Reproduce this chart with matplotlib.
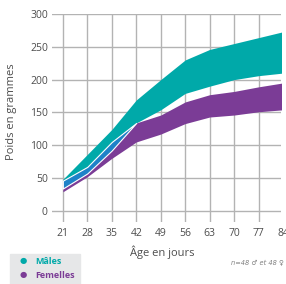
import matplotlib.pyplot as plt
import numpy as np

plt.rcParams['font.family'] = ['Open Sans', 'DejaVu Sans']

# ages (jours) et poids (grammes)
jours = [21, 28, 35, 42, 49, 56, 63, 70, 77, 84]
males_haut = [48, 86, 124, 169, 200, 230, 246, 255, 264, 273]
males_bas = [34, 57, 92, 134, 154, 179, 190, 200, 206, 210]
femelles_haut = [46, 67, 105, 134, 146, 166, 177, 182, 189, 195]
femelles_bas = [29, 52, 80, 105, 117, 133, 143, 146, 151, 154]

y_ticks = [0, 50, 100, 150, 200, 250, 300]

teal = '#00a9a9'
violet = '#7b3c96'
bleu = '#1e82c8'
gris = '#4d4d4d'

W, H = 286, 284
fig = plt.figure(figsize=(W / 100, H / 100), dpi=100)
ax = fig.add_axes([52 / W, (H - 222) / H, (281 - 52) / W, (222 - 14) / H])

x = np.array(jours)
mh, mb = np.array(males_haut), np.array(males_bas)
fh, fb = np.array(femelles_haut), np.array(femelles_bas)

ax.fill_between(x, mb, mh, color=teal, lw=0, zorder=3)
ax.fill_between(x, fb, fh, color=violet, lw=0, zorder=3)
# zone de chevauchement
haut = np.minimum(mh, fh)
bas = np.maximum(mb, fb)
ax.fill_between(x, bas, haut, where=haut > bas, interpolate=True,
                facecolor=bleu, edgecolor='white', lw=0.8, zorder=4)

ax.set_xlim(17.9, 83.4)
ax.set_ylim(-17, 300)
ax.set_xticks(jours[:-1])
ax.set_yticks(y_ticks)
ax.grid(True, color='#b3b3b3', lw=1, zorder=0)
ax.tick_params(length=0, labelsize=7.5, colors=gris)
ax.tick_params(axis='x', pad=4.5)
ax.tick_params(axis='y', pad=3)
for s in ax.spines.values():
    s.set_visible(False)

# dernier label coupé par le bord
ax.annotate('84', (84, -17), xytext=(0, -4.5), textcoords='offset points',
            ha='center', va='top', fontsize=7.5, color=gris,
            annotation_clip=False)

fig.text(12 / W, 1 - 112 / H, 'Poids en grammes', rotation=90, ha='center',
         va='center', fontsize=8, color=gris)
fig.text(162 / W, 1 - 252 / H, 'Âge en jours', ha='center', va='center',
         fontsize=8, color=gris)

# légende
fig.patches.append(plt.Rectangle((10 / W, 0), 70 / W, 30 / H,
                                 transform=fig.transFigure, color='#e6e7e8'))
fig.text(23 / W, 1 - 262 / H, '●', ha='center', va='center', fontsize=6, color=teal)
fig.text(23 / W, 1 - 276 / H, '●', ha='center', va='center', fontsize=6, color=violet)
fig.text(35 / W, 1 - 262 / H, 'Mâles', ha='left', va='center', fontsize=6.5,
         color=teal, fontweight='bold')
fig.text(35 / W, 1 - 276 / H, 'Femelles', ha='left', va='center', fontsize=6.5,
         color=violet, fontweight='bold')

fig.text(231 / W, 1 - 262 / H, 'n=48 ♂ et 48 ♀', ha='left', va='center',
         fontsize=4.8, color='#808080', style='italic', family=['DejaVu Sans'])

fig.savefig('out.png', dpi=100)
